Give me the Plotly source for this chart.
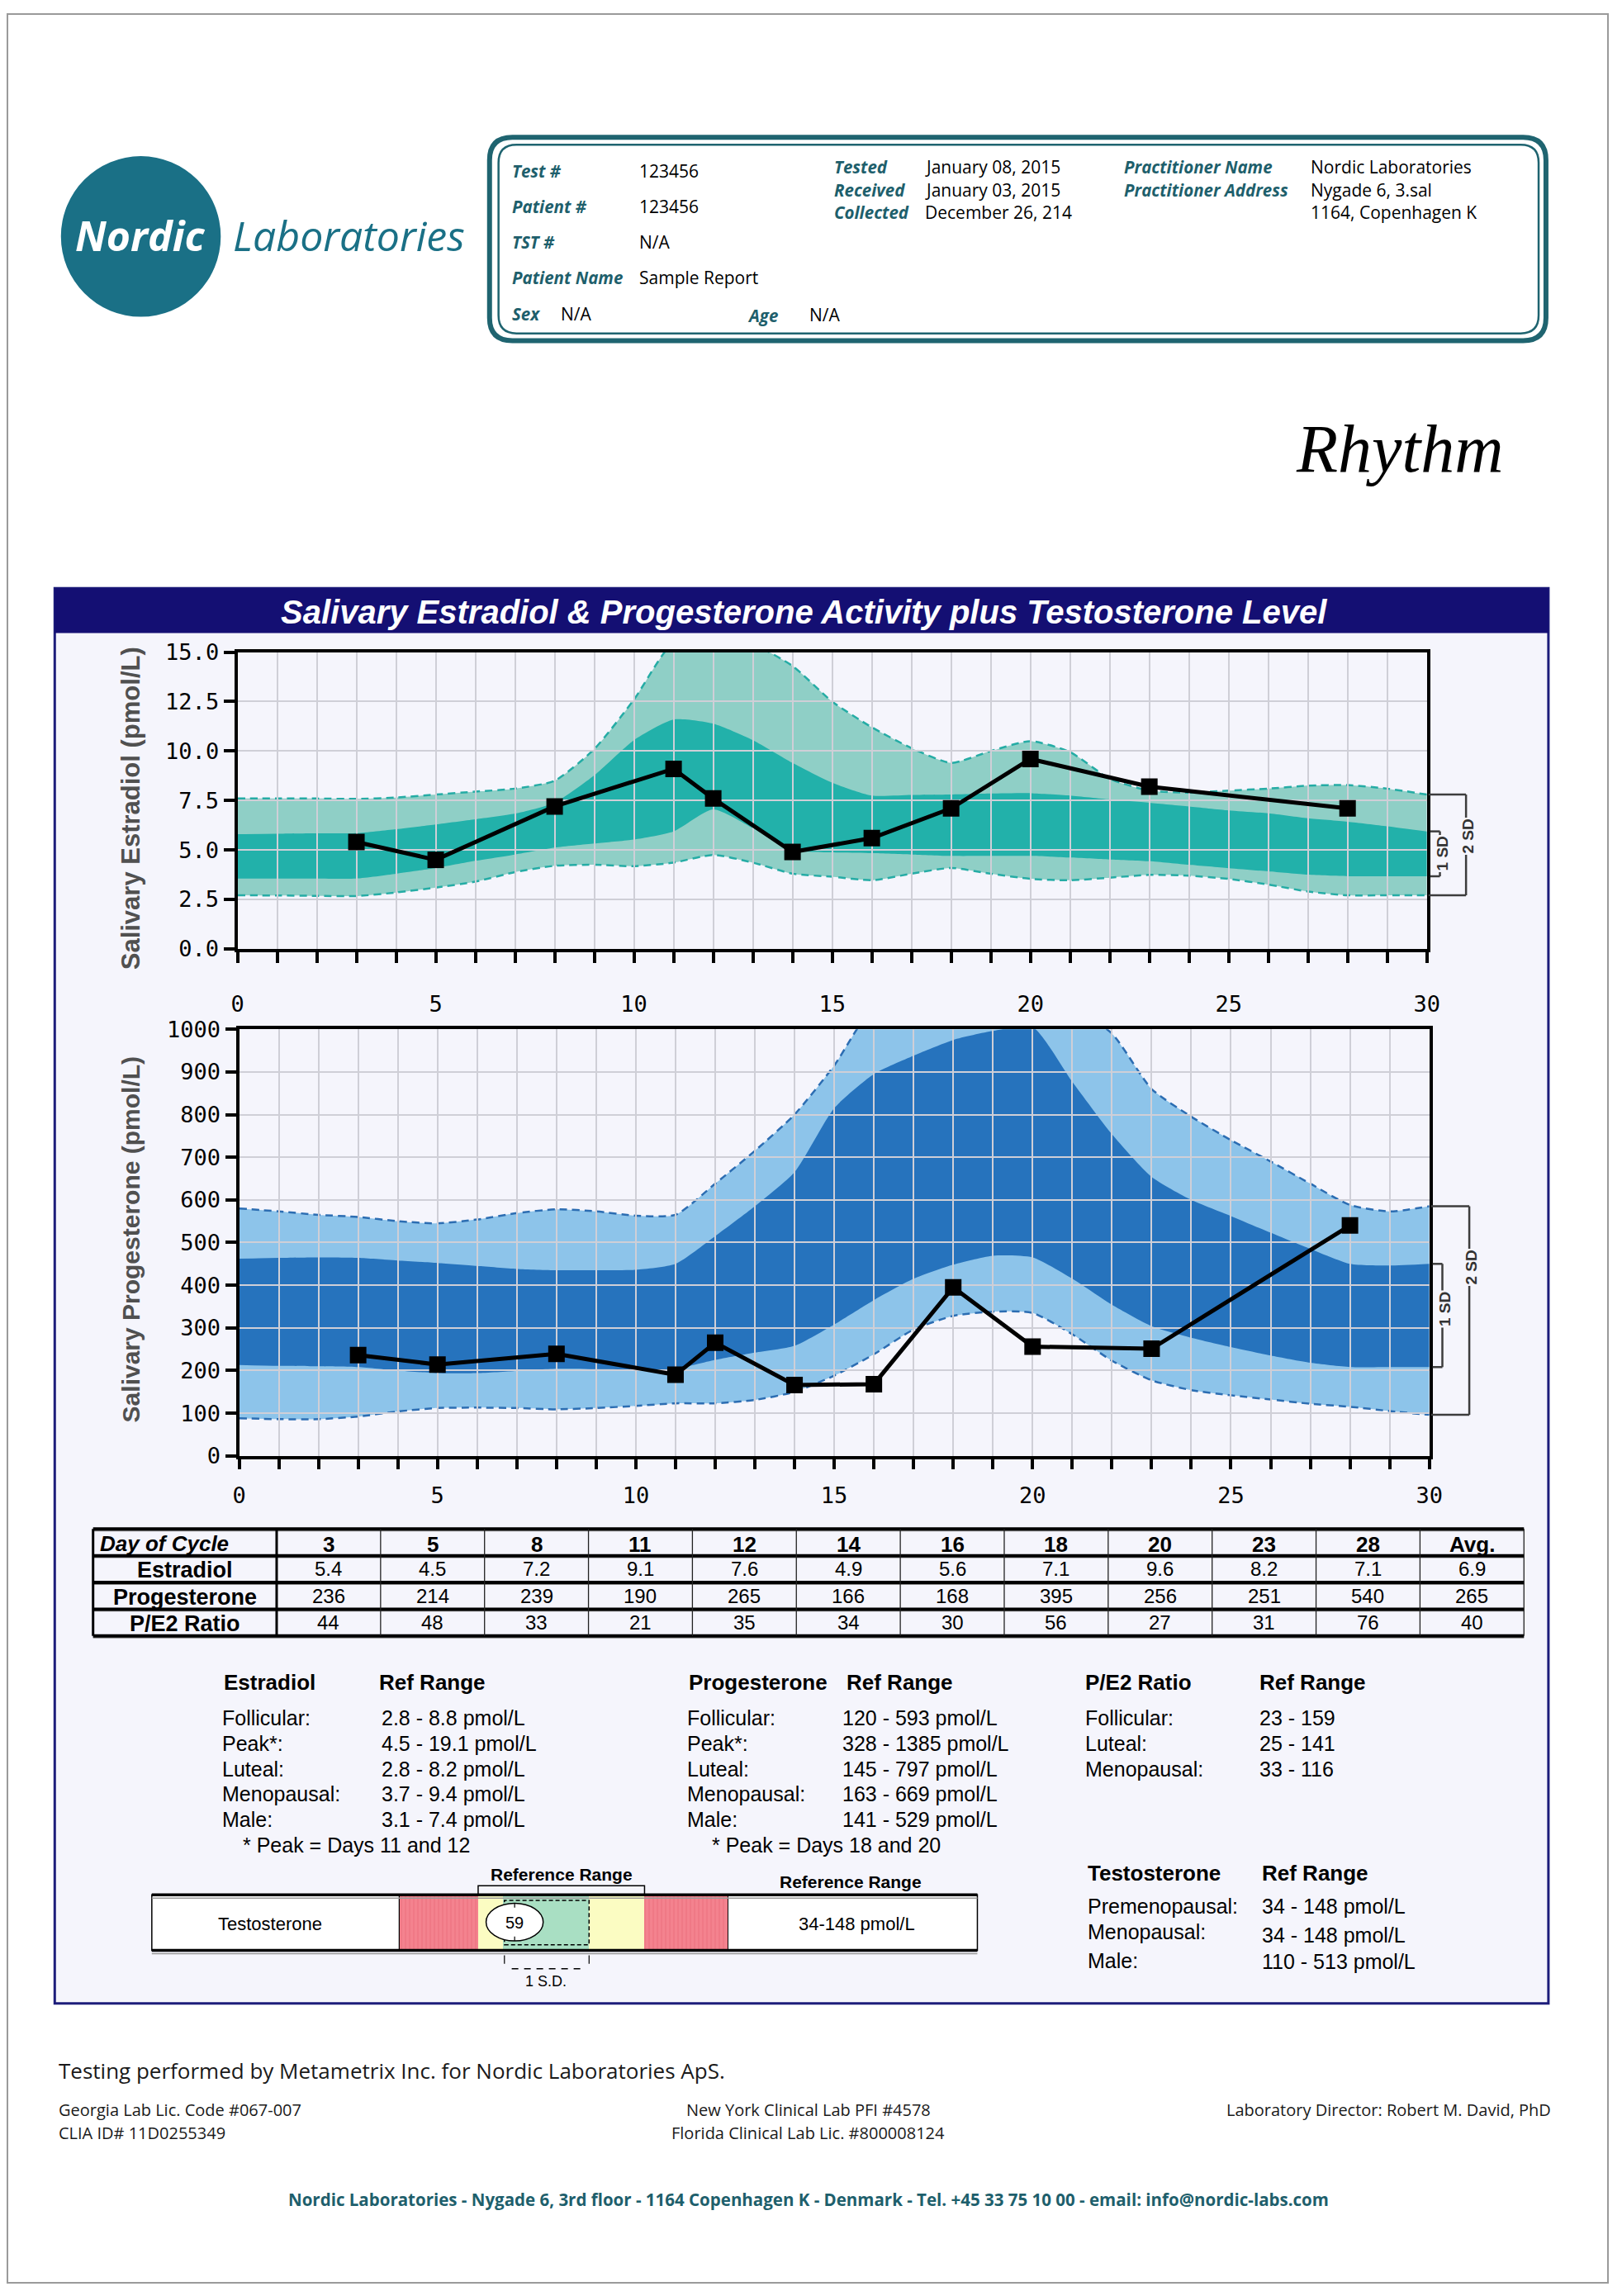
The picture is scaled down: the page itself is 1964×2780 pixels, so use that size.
import plotly.graph_objects as go

W, H = 1964, 2780


def px(x):
    return x / W


def py(y):
    return 1 - y / H


# ---------------- data ----------------
cycle_days = list(range(31))
sample_days = [3, 5, 8, 11, 12, 14, 16, 18, 20, 23, 28]
estradiol = [5.4, 4.5, 7.2, 9.1, 7.6, 4.9, 5.6, 7.1, 9.6, 8.2, 7.1]
progesterone = [236, 214, 239, 190, 265, 166, 168, 395, 256, 251, 540]
pe2_ratio = [44, 48, 33, 21, 35, 34, 30, 56, 27, 31, 76]
avg_estradiol = "6.9"
avg_progesterone = "265"
avg_ratio = "40"

e2_2sd_high = [7.6, 7.6, 7.6, 7.58, 7.65, 7.8, 7.95, 8.1, 8.5, 10.1, 12.6, 15.5, 15.8, 15.4, 14.3, 12.5,
               11.2, 10.15, 9.4, 10.0, 10.5, 9.95, 8.6, 8.0, 7.9, 8.0, 8.1, 8.25, 8.28, 8.1, 7.8]
e2_1sd_high = [5.8, 5.82, 5.84, 5.85, 6.05, 6.29, 6.55, 6.84, 7.39, 8.77, 10.55, 11.59, 11.38, 10.55, 9.4, 8.4,
               7.75, 7.78, 7.8, 7.85, 7.87, 7.75, 7.55, 7.39, 7.2, 7.0, 6.85, 6.6, 6.43, 6.2, 5.94]
e2_1sd_low = [3.56, 3.56, 3.56, 3.56, 3.8, 4.09, 4.45, 4.77, 5.12, 5.33, 5.53, 5.94, 7.05, 6.1, 5.0, 4.88,
              4.84, 4.77, 4.7, 4.7, 4.7, 4.62, 4.52, 4.43, 4.25, 4.08, 3.92, 3.75, 3.67, 3.67, 3.67]
e2_2sd_low = [2.71, 2.7, 2.68, 2.67, 2.85, 3.1, 3.4, 3.88, 4.2, 4.25, 4.18, 4.36, 4.75, 4.36, 3.8, 3.65,
              3.47, 3.8, 4.09, 3.8, 3.54, 3.47, 3.6, 3.74, 3.7, 3.54, 3.25, 2.9, 2.71, 2.71, 2.71]

p_2sd_high = [580, 573, 565, 560, 550, 545, 554, 569, 578, 573, 563, 565, 638, 715, 800, 915,
              1050, 1050, 1050, 1050, 1050, 1050, 990, 860, 795, 740, 690, 638, 588, 573, 585]
p_1sd_high = [462, 464, 465, 464, 458, 452, 445, 438, 435, 435, 436, 450, 515, 585, 665, 815,
              895, 938, 975, 996, 1005, 877, 754, 654, 600, 562, 523, 485, 450, 446, 450]
p_1sd_low = [213, 211, 210, 208, 200, 194, 194, 199, 204, 203, 202, 204, 225, 242, 258, 308,
             365, 415, 448, 469, 465, 415, 354, 304, 277, 255, 235, 218, 208, 208, 208]
p_2sd_low = [88, 86, 86, 92, 104, 112, 113, 112, 109, 112, 117, 123, 123, 131, 150, 188,
             238, 296, 328, 338, 335, 285, 223, 177, 154, 142, 132, 122, 115, 105, 96]

t_value = 59
t_ref_low, t_ref_high = 34, 148
t_sd_low, t_sd_high = 51, 110
t_scale_min, t_scale_max = -20, 205

table_header = [str(d) for d in sample_days] + ["Avg."]
table_rows = [
    ("Estradiol", [f"{v:.1f}" for v in estradiol] + [avg_estradiol]),
    ("Progesterone", [str(v) for v in progesterone] + [avg_progesterone]),
    ("P/E2 Ratio", [str(v) for v in pe2_ratio] + [avg_ratio]),
]

e2_ref_labels = ["Follicular:", "Peak*:", "Luteal:", "Menopausal:", "Male:"]
e2_ref_values = ["2.8 - 8.8 pmol/L", "4.5 - 19.1 pmol/L", "2.8 - 8.2 pmol/L", "3.7 - 9.4 pmol/L", "3.1 - 7.4 pmol/L"]
p_ref_labels = ["Follicular:", "Peak*:", "Luteal:", "Menopausal:", "Male:"]
p_ref_values = ["120 - 593 pmol/L", "328 - 1385 pmol/L", "145 - 797 pmol/L", "163 - 669 pmol/L", "141 - 529 pmol/L"]
r_ref_labels = ["Follicular:", "Luteal:", "Menopausal:"]
r_ref_values = ["23 - 159", "25 - 141", "33 - 116"]
t_ref_labels = ["Premenopausal:", "Menopausal:", "Male:"]
t_ref_values = ["34 - 148 pmol/L", "34 - 148 pmol/L", "110 - 513 pmol/L"]

# ---------------- styles ----------------
SANS = "Liberation Sans, Arial, sans-serif"
MYR = "Open Sans, Noto Sans, sans-serif"
MONO = "DejaVu Sans Mono, monospace"
SERIF = "Liberation Serif, Times New Roman, serif"
TEAL = "#1e5f6c"
LOGO = "#1a7086"
E_LIGHT, E_DARK, E_DASH = "#8fcfc6", "#22b1aa", "#25aca5"
P_LIGHT, P_DARK, P_DASH = "#8dc4ea", "#2673bd", "#2c6db2"
GRID = "#cfcfd7"
PANEL_BG = "#f5f5fc"

E_XD = [px(283), px(1741)]
E_YD = [py(1145.7), py(782.3)]
P_XD = [px(285), px(1744)]
P_YD = [py(1766.4), py(1244.1)]

fig = go.Figure()


def add_band(xa, ya, lo2, hi2, lo1, hi1, light, dark, dash):
    common = dict(x=cycle_days, xaxis=xa, yaxis=ya, mode="lines", hoverinfo="skip", showlegend=False)
    dl = dict(color=dash, width=2.5, dash="9px,6px", shape="spline", smoothing=0.6)
    fig.add_trace(go.Scatter(y=lo2, line=dl, **common))
    fig.add_trace(go.Scatter(y=hi2, fill="tonexty", fillcolor=light, line=dl, **common))
    nl = dict(color=dark, width=0, shape="spline", smoothing=0.6)
    fig.add_trace(go.Scatter(y=lo1, line=nl, **common))
    fig.add_trace(go.Scatter(y=hi1, fill="tonexty", fillcolor=dark, line=nl, **common))


add_band("x", "y", e2_2sd_low, e2_2sd_high, e2_1sd_low, e2_1sd_high, E_LIGHT, E_DARK, E_DASH)
fig.add_trace(go.Scatter(x=sample_days, y=estradiol, xaxis="x2", yaxis="y2", mode="lines+markers",
                         line=dict(color="black", width=5),
                         marker=dict(symbol="square", size=20, color="black"), showlegend=False))
add_band("x3", "y3", p_2sd_low, p_2sd_high, p_1sd_low, p_1sd_high, P_LIGHT, P_DARK, P_DASH)
fig.add_trace(go.Scatter(x=sample_days, y=progesterone, xaxis="x4", yaxis="y4", mode="lines+markers",
                         line=dict(color="black", width=5),
                         marker=dict(symbol="square", size=20, color="black"), showlegend=False))

# testosterone zones (bars)
red_marker = dict(color="#f4838f", line=dict(width=0),
                  pattern=dict(shape="|", fgcolor="#e4606f", size=5, solidity=0.25))
zones = [
    (t_scale_min, t_ref_low, red_marker),
    (t_ref_low, t_ref_high, dict(color="#fbfcc2", line=dict(width=0))),
    (t_ref_high, t_scale_max, red_marker),
    (t_sd_low, t_sd_high, dict(color="#a9dfc3", line=dict(width=0))),
]
for a, b, mk in zones:
    fig.add_trace(go.Bar(x=[b - a], base=[a], y=[0.5], width=[1], orientation="h", xaxis="x6", yaxis="y6",
                         marker=mk, showlegend=False, hoverinfo="skip"))

# ---------------- axes ----------------
hidden = dict(visible=False, fixedrange=True)


def grid_x(domain, anchor, standoff, tlen):
    return dict(domain=domain, anchor=anchor, range=[0, 30], tickmode="linear", tick0=0, dtick=5,
                ticks="outside", ticklen=tlen, tickwidth=4, tickcolor="black",
                showgrid=True, gridcolor=GRID, gridwidth=2,
                minor=dict(tick0=0, dtick=1, ticks="outside", ticklen=tlen, tickwidth=4, tickcolor="black",
                           showgrid=True, gridcolor=GRID, gridwidth=2),
                showline=True, linewidth=4, linecolor="black", mirror=True, zeroline=False,
                tickfont=dict(family=MONO, size=27, color="black"), ticklabelstandoff=standoff,
                fixedrange=True)


def grid_y(domain, anchor, rng, dtick, fmt):
    return dict(domain=domain, anchor=anchor, range=rng, tickmode="linear", tick0=0, dtick=dtick,
                tickformat=fmt, ticks="outside", ticklen=13, tickwidth=4, tickcolor="black",
                showgrid=True, gridcolor=GRID, gridwidth=2,
                showline=True, linewidth=4, linecolor="black", mirror=True, zeroline=False,
                tickfont=dict(family=MONO, size=27, color="black"), fixedrange=True)


# table axis: column units (first column wider), row units
T_X0, T_X1 = 106, 1860
col_unit = (T_X1 - T_X0) / (12 + 225 / 127.4)
first_w = (T_X1 - T_X0) / col_unit - 12
TB_Y0, TB_Y1 = 1856, 1987
row_unit = (TB_Y1 - TB_Y0) / 4
pad_x, pad_y = 0.1, 0.2

# testosterone axis (bar occupies y 0..1)
TS_X0, TS_X1 = 481.4, 884
TS_Y0, TS_Y1 = 2304, 2372  # top, bottom of bar
ts_unit = TS_Y1 - TS_Y0
ts_lo, ts_hi = -0.8, 1.5

layout_axes = dict(
    xaxis=dict(domain=E_XD, range=[0, 30], anchor="y", **hidden),
    yaxis=dict(domain=E_YD, range=[0, 15], anchor="x", **hidden),
    xaxis2=grid_x(E_XD, "y2", 27, 13),
    yaxis2=grid_y(E_YD, "x2", [0, 15], 2.5, ".1f"),
    xaxis3=dict(domain=P_XD, range=[0, 30], anchor="y3", **hidden),
    yaxis3=dict(domain=P_YD, range=[0, 1000], anchor="x3", **hidden),
    xaxis4=grid_x(P_XD, "y4", 9, 12),
    yaxis4=grid_y(P_YD, "x4", [0, 1000], 100, "d"),
    xaxis5=dict(domain=[px(T_X0 - pad_x * col_unit), px(T_X1 + pad_x * col_unit)],
                range=[-first_w - pad_x, 12 + pad_x], anchor="y5", **hidden),
    yaxis5=dict(domain=[py(TB_Y1 + pad_y * row_unit), py(TB_Y0 - pad_y * row_unit)],
                range=[4 + pad_y, -pad_y], anchor="x5", **hidden),
    xaxis6=dict(domain=[px(TS_X0), px(TS_X1)], range=[t_scale_min, t_scale_max], anchor="y6", **hidden),
    yaxis6=dict(domain=[py(TS_Y1 - ts_lo * ts_unit), py(TS_Y0 - (ts_hi - 1) * ts_unit)], range=[ts_lo, ts_hi],
                anchor="x6", **hidden),
)

shapes = []
ann = []


def text(x, y, t, size, color="black", family=SANS, xanchor="left", **kw):
    d = dict(x=px(x), y=py(y), xref="paper", yref="paper", text=t, showarrow=False,
             xanchor=xanchor, yanchor="middle", font=dict(family=family, size=size, color=color))
    d.update(kw)
    ann.append(d)


def pline(x0, y0, x1, y1, color="black", width=2, dash=None, layer="above"):
    ln = dict(color=color, width=width)
    if dash:
        ln["dash"] = dash
    shapes.append(dict(type="line", xref="paper", yref="paper", x0=px(x0), y0=py(y0), x1=px(x1), y1=py(y1),
                       line=ln, layer=layer))


def rounded(x0, y0, x1, y1, r):
    pts = [("M", x0 + r, y0), ("L", x1 - r, y0), ("Q", x1, y0, x1, y0 + r), ("L", x1, y1 - r),
           ("Q", x1, y1, x1 - r, y1), ("L", x0 + r, y1), ("Q", x0, y1, x0, y1 - r), ("L", x0, y0 + r),
           ("Q", x0, y0, x0 + r, y0)]
    s = ""
    for p in pts:
        if p[0] == "Q":
            s += f"Q{px(p[1]):.5f},{py(p[2]):.5f} {px(p[3]):.5f},{py(p[4]):.5f} "
        else:
            s += f"{p[0]}{px(p[1]):.5f},{py(p[2]):.5f} "
    return s + "Z"


# page border
shapes.append(dict(type="rect", xref="paper", yref="paper", x0=px(1), y0=py(2779), x1=px(1963), y1=py(1),
                   line=dict(color="#9a9a9a", width=2), layer="below"))

# ---------------- logo ----------------
shapes.append(dict(type="circle", xref="paper", yref="paper", x0=px(66.6), x1=px(262.5), y0=py(371.7),
                   y1=py(175), fillcolor=LOGO, line=dict(width=0), layer="below"))
text(164, 272, "<b><i>Nordic</i></b>", 50, "white", MYR, "center")
text(275, 272, "<i>Laboratories</i>", 50, LOGO, MYR, "left")

# ---------------- header box ----------------
shapes.append(dict(type="path", xref="paper", yref="paper", path=rounded(592, 152, 1887, 401, 28),
                   line=dict(color="#1f6470", width=6), layer="below"))
shapes.append(dict(type="path", xref="paper", yref="paper", path=rounded(603, 161, 1878, 392, 22),
                   line=dict(color="#1f6470", width=2.5), layer="below"))

HL, HV = 20.5, 21
hdr_left = [("Test #", "123456", 193), ("Patient #", "123456", 237), ("TST #", "N/A", 280),
            ("Patient Name", "Sample Report", 324)]
for lab, val, y in hdr_left:
    text(618, y, f"<b><i>{lab}</i></b>", HL, TEAL, MYR)
    text(773, y, val, HV, "black", MYR)
text(618, 368, "<b><i>Sex</i></b>", HL, TEAL, MYR)
text(677, 368, "N/A", HV, "black", MYR)
text(906, 370, "<b><i>Age</i></b>", HL, TEAL, MYR)
text(982, 369, "N/A", HV, "black", MYR)
hdr_mid = [("Tested", "January 08, 2015", 188), ("Received", "January 03, 2015", 216),
           ("Collected", "December 26, 214", 244)]
for lab, val, y in hdr_mid:
    text(1012, y, f"<b><i>{lab}</i></b>", HL, TEAL, MYR)
    text(1124, y, val, HV, "black", MYR)
hdr_right = [("Practitioner Name", "Nordic Laboratories", 188), ("Practitioner Address", "Nygade 6, 3.sal", 216),
             ("", "1164, Copenhagen K", 244)]
for lab, val, y in hdr_right:
    if lab:
        text(1368, y, f"<b><i>{lab}</i></b>", HL, TEAL, MYR)
    text(1597, y, val, HV, "black", MYR)

text(1836, 533, "<i>Rhythm</i>", 82, "black", SERIF, "right")

# ---------------- panel ----------------
shapes.append(dict(type="rect", xref="paper", yref="paper", x0=px(59), x1=px(1890), y0=py(2437), y1=py(704),
                   fillcolor=PANEL_BG, line=dict(color="#1d1d7a", width=3), layer="below"))
shapes.append(dict(type="rect", xref="paper", yref="paper", x0=px(59), x1=px(1890), y0=py(759), y1=py(704),
                   fillcolor="#140f73", line=dict(width=0), layer="below"))
text(977, 733, "<b><i>Salivary Estradiol &amp; Progesterone Activity plus Testosterone Level</i></b>",
     40, "white", SANS, "center")

text(152, 974, "<b>Salivary Estradiol (pmol/L)</b>", 31, "#505050", SANS, "center", textangle=-90)
text(152, 1502, "<b>Salivary Progesterone (pmol/L)</b>", 30, "#505050", SANS, "center", textangle=-90)


# SD brackets (paper coordinates derived from axis domains)
def vy(v, dom_px_top, dom_px_bot, vmax):
    return dom_px_bot - (dom_px_bot - dom_px_top) * v / vmax


def brackets(top_px, bot_px, vmax, hi2, lo2, hi1, lo1, xr, x1, x2, t1, t2):
    c = "#3d3d3d"
    y_hi2, y_lo2 = vy(hi2, top_px, bot_px, vmax), vy(lo2, top_px, bot_px, vmax)
    y_hi1, y_lo1 = vy(hi1, top_px, bot_px, vmax), vy(lo1, top_px, bot_px, vmax)
    pline(xr, y_hi2, x2, y_hi2, c, 2.5)
    pline(x2, y_hi2, x2, y_lo2, c, 2.5)
    pline(xr, y_lo2, x2, y_lo2, c, 2.5)
    pline(x1 - 12, y_hi1, x1, y_hi1, c, 2.5)
    pline(x1, y_hi1, x1, y_lo1, c, 2.5)
    pline(x1 - 12, y_lo1, x1, y_lo1, c, 2.5)
    text(x2 + 2, vy(t2, top_px, bot_px, vmax), "<b>2 SD</b>", 19, "#333333", SANS, "center",
         textangle=-90, bgcolor=PANEL_BG, borderpad=1)
    text(x1 + 3, vy(t1, top_px, bot_px, vmax), "<b>1 SD</b>", 19, "#333333", SANS, "center",
         textangle=-90, bgcolor=PANEL_BG, borderpad=1)


brackets(782.3, 1145.7, 15, e2_2sd_high[-1], e2_2sd_low[-1], e2_1sd_high[-1], e2_1sd_low[-1],
         1743, 1757, 1789, 4.84, 5.7)
brackets(1244.1, 1766.4, 1000, p_2sd_high[-1], p_2sd_low[-1], p_1sd_high[-1], p_1sd_low[-1],
         1746, 1760, 1793, 345, 442)


# ---------------- table ----------------
def tline(x0, y0, x1, y1, width, color="black"):
    shapes.append(dict(type="line", xref="x5", yref="y5", x0=x0, y0=y0, x1=x1, y1=y1,
                       line=dict(color=color, width=width), layer="above"))


for r in range(5):
    tline(-first_w, r + 0.05, 12, r + 0.05, 2.5, "#8a8a8a")
    tline(-first_w, r, 12, r, 4)
tline(-first_w, 0, -first_w, 4, 3)
tline(0, 0, 0, 4, 3)
for c in range(1, 13):
    tline(c, 0, c, 4, 1.3, "#222222")


def tcell(x, y, t, size, xanchor="center"):
    ann.append(dict(x=x, y=y, xref="x5", yref="y5", text=t, showarrow=False, xanchor=xanchor,
                    yanchor="middle", font=dict(family=SANS, size=size, color="black")))


tcell(-first_w + 0.05, 0.55, "<b><i>Day of Cycle</i></b>", 26, "left")
for i, h in enumerate(table_header):
    tcell(i + 0.5, 0.58, f"<b>{h}</b>", 26)
for r, (lab, vals) in enumerate(table_rows):
    tcell(-first_w / 2, r + 1.55, f"<b>{lab}</b>", 27)
    for i, v in enumerate(vals):
        tcell(i + 0.5, r + 1.5, v, 24)

# ---------------- reference ranges ----------------
ref_rows_y = [2087, 2119, 2150, 2180, 2212]
text(264, 2044, "<b>Estradiol</b>", 26)
text(455, 2044, "<b>Ref Range</b>", 26)
for y, l, v in zip(ref_rows_y, e2_ref_labels, e2_ref_values):
    text(262, y, l, 25)
    text(458, y, v, 25)
text(288, 2243, "* Peak = Days 11 and 12", 25)

text(834, 2044, "<b>Progesterone</b>", 26)
text(1028, 2044, "<b>Ref Range</b>", 26)
for y, l, v in zip(ref_rows_y, p_ref_labels, p_ref_values):
    text(832, y, l, 25)
    text(1023, y, v, 25)
text(863, 2243, "* Peak = Days 18 and 20", 25)

text(1320, 2044, "<b>P/E2 Ratio</b>", 26)
text(1534, 2044, "<b>Ref Range</b>", 26)
for y, l, v in zip(ref_rows_y, r_ref_labels, r_ref_values):
    text(1320, y, l, 25)
    text(1534, y, v, 25)

# ---------------- testosterone ----------------
shapes.append(dict(type="rect", xref="paper", yref="paper", x0=px(178), x1=px(TS_X0), y0=py(TS_Y1), y1=py(TS_Y0),
                   fillcolor="white", line=dict(color="black", width=1.5), layer="below"))
shapes.append(dict(type="rect", xref="paper", yref="paper", x0=px(TS_X1), x1=px(1190), y0=py(TS_Y1), y1=py(TS_Y0),
                   fillcolor="white", line=dict(color="black", width=1.5), layer="below"))
pline(178, TS_Y0, 1190, TS_Y0, "black", 3.5)
pline(178, TS_Y1, 1190, TS_Y1, "black", 3.5)
pline(178, TS_Y0 + 4, 1190, TS_Y0 + 4, "#999999", 1.5)
pline(178, TS_Y1 + 4, 1190, TS_Y1 + 4, "#999999", 1.5)
text(323, 2340, "Testosterone", 22, "black", SANS, "center")
text(1042, 2340, "34-148 pmol/L", 22, "black", SANS, "center")
text(1035, 2288, "<b>Reference Range</b>", 21, "black", SANS, "center")


def tsh(kind, x0, y0, x1, y1, **kw):
    d = dict(type=kind, xref="x6", yref="y6", x0=x0, y0=y0, x1=x1, y1=y1, layer="above")
    d.update(kw)
    shapes.append(d)


tsh("rect", t_sd_low + 1, 0.1, t_sd_high, 0.9, line=dict(color="black", width=1.5, dash="5px,3px"))
half_w = 35 / ((TS_X1 - TS_X0) / (t_scale_max - t_scale_min))
tsh("circle", t_value - half_w, 0.17, t_value + half_w, 0.85, fillcolor="white",
    line=dict(color="black", width=1.5))
tsh("line", t_value, 0.85, t_value, 0.77, line=dict(color="black", width=1.2))
tsh("line", t_value, 0.17, t_value, 0.25, line=dict(color="black", width=1.2))
shapes.append(dict(type="path", xref="x6", yref="y6", layer="above", line=dict(color="black", width=1.5),
                   path=f"M{t_ref_low},1.0 L{t_ref_low},1.165 L{t_ref_high},1.165 L{t_ref_high},1.0"))
tsh("line", t_sd_low + 1, -0.09, t_sd_low + 1, -0.24, line=dict(color="black", width=1.2))
tsh("line", t_sd_high, -0.09, t_sd_high, -0.24, line=dict(color="black", width=1.2))
tsh("line", t_sd_low + 6, -0.33, t_sd_high - 5, -0.33, line=dict(color="black", width=1.5, dash="8px,7px"))
ann.append(dict(x=t_value, y=0.5, xref="x6", yref="y6", text=str(t_value), showarrow=False,
                font=dict(family=SANS, size=20, color="black")))
ann.append(dict(x=(t_ref_low + t_ref_high) / 2, y=1.37, xref="x6", yref="y6", text="<b>Reference Range</b>",
                showarrow=False, font=dict(family=SANS, size=21, color="black")))
ann.append(dict(x=(t_sd_low + t_sd_high) / 2, y=-0.56, xref="x6", yref="y6", text="1 S.D.",
                showarrow=False, font=dict(family=SANS, size=18, color="black")))

text(1323, 2277, "<b>Testosterone</b>", 26)
text(1537, 2277, "<b>Ref Range</b>", 26)
for (l, ly), (v, vy_) in zip(zip(t_ref_labels, [2318, 2349, 2385]), zip(t_ref_values, [2318, 2353, 2386])):
    text(1323, ly, l, 25)
    text(1537, vy_, v, 25)

# ---------------- footer ----------------
text(62, 2519, "Testing performed by Metametrix Inc. for Nordic Laboratories ApS.", 26, "#1a1a1a", MYR)
text(62, 2567, "Georgia Lab Lic. Code #067-007", 20, "#1a1a1a", MYR)
text(62, 2595, "CLIA ID# 11D0255349", 20, "#1a1a1a", MYR)
text(983, 2567, "New York Clinical Lab PFI #4578", 20, "#1a1a1a", MYR, "center")
text(983, 2595, "Florida Clinical Lab Lic. #800008124", 20, "#1a1a1a", MYR, "center")
text(1895, 2567, "Laboratory Director: Robert M. David, PhD", 20, "#1a1a1a", MYR, "right")
text(983, 2677, "<b>Nordic Laboratories - Nygade 6, 3rd floor - 1164 Copenhagen K - Denmark - "
                "Tel. +45 33 75 10 00 - email: info@nordic-labs.com</b>", 20.5, TEAL, MYR, "center")

fig.update_layout(
    width=W, height=H, margin=dict(l=0, r=0, t=0, b=0, pad=0),
    paper_bgcolor="white", plot_bgcolor="rgba(0,0,0,0)",
    showlegend=False, barmode="overlay", bargap=0,
    shapes=shapes, annotations=ann, **layout_axes,
)

fig.write_html("out.html", config={"displayModeBar": False, "staticPlot": True},
               post_script="document.body.style.margin='0';document.body.style.padding='0';"
                           "document.body.style.overflow='hidden';")
